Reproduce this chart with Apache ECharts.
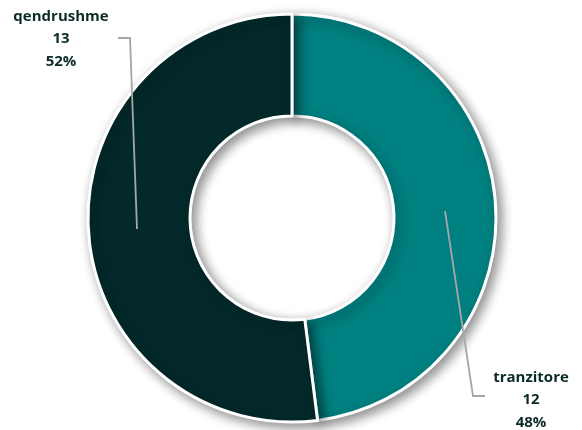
<!DOCTYPE html>
<html><head><meta charset="utf-8">
<script src="https://cdn.jsdelivr.net/npm/echarts@6/dist/echarts.min.js"></script>
<style>html,body{margin:0;padding:0;background:#fff}#c{width:582px;height:430px}</style>
</head><body><div id="c"></div>
<script>
const categories = ['tranzitore', 'qendrushme'];
const values = [12, 13];
const colors = ['#008080', '#03292A'];
const labelPos = [[531, 366], [61, 5]];

const chart = echarts.init(document.getElementById('c'));
chart.setOption({
  animation: false,
  graphic: [
    { type: 'polyline', z: 10, shape: { points: [[445, 211], [473, 396], [485, 396]] },
      style: { stroke: '#A6A6A6', lineWidth: 1.8, fill: null } },
    { type: 'polyline', z: 10, shape: { points: [[137, 229], [130, 38], [118, 38]] },
      style: { stroke: '#A6A6A6', lineWidth: 1.8, fill: null } }
  ],
  series: [{
    type: 'pie',
    center: [292, 218],
    radius: [102, 204],
    startAngle: 90,
    clockwise: true,
    data: categories.map((c, i) => ({ name: c, value: values[i], itemStyle: { color: colors[i] } })),
    itemStyle: { borderColor: '#fff', borderWidth: 3, shadowBlur: 12, shadowColor: 'rgba(0,0,0,0.45)', shadowOffsetX: 4, shadowOffsetY: 4 },
    emphasis: { disabled: true },
    label: {
      show: true, position: 'outside', alignTo: 'none', overflow: 'none', width: 200,
      formatter: '{b}\n{c}\n{d}%',
      fontFamily: 'Open Sans', fontWeight: 'bold', fontSize: 15, lineHeight: 22.5,
      color: '#0B2B28', align: 'center'
    },
    labelLine: { show: false },
    labelLayout: function (p) {
      const pos = labelPos[p.dataIndex];
      return { x: pos[0], y: pos[1], align: 'center', verticalAlign: 'top' };
    }
  }]
});
</script></body></html>
